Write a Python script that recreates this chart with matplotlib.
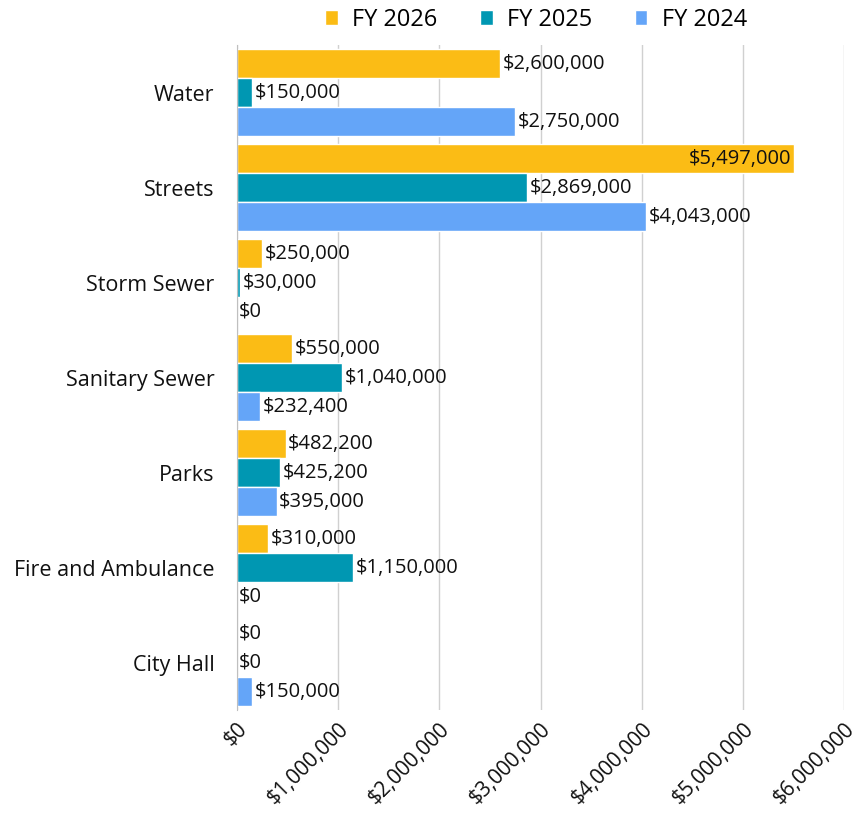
import matplotlib
matplotlib.use("Agg")
import matplotlib.pyplot as plt
import numpy as np
from matplotlib.ticker import FuncFormatter

plt.rcParams['font.family'] = ['Open Sans', 'DejaVu Sans']

categories = ["Water", "Streets", "Storm Sewer", "Sanitary Sewer", "Parks",
              "Fire and Ambulance", "City Hall"]
series_names = ["FY 2026", "FY 2025", "FY 2024"]
fy2026 = [2600000, 5497000, 250000, 550000, 482200, 310000, 0]
fy2025 = [150000, 2869000, 30000, 1040000, 425200, 1150000, 0]
fy2024 = [2750000, 4043000, 0, 232400, 395000, 0, 150000]
colors = ["#FBBC15", "#0097B2", "#64A5F8"]
x_ticks = [0, 1000000, 2000000, 3000000, 4000000, 5000000, 6000000]

fig = plt.figure(figsize=(8.67, 8.24), dpi=100)
ax = fig.add_axes([0.273, 0.138, 0.701, 0.807])

y = np.arange(len(categories))
h = 0.305
offsets = [-h, 0, h]
fs_val = 14.5
fs_cat = 15.5
fs_tick = 15
for vals, off, col, name in zip([fy2026, fy2025, fy2024], offsets, colors, series_names):
    ax.barh(y + off, vals, height=h, color=col, edgecolor='white',
            linewidth=1.0, label=name, zorder=3)
    for yy, v in zip(y + off, vals):
        lab = "${:,.0f}".format(v)
        if v > 5000000:
            ax.text(v - 20000, yy, lab, ha='right', va='center', fontsize=fs_val,
                    color='#111111', zorder=4)
        else:
            ax.text(v + 25000, yy, lab, ha='left', va='center', fontsize=fs_val,
                    color='#111111', zorder=4)

ax.set_xlim(0, 6000000)
ax.set_ylim(len(categories) - 0.5, -0.5)
ax.set_yticks(y)
ax.set_yticklabels(categories, fontsize=fs_cat)
ax.set_xticks(x_ticks)
ax.xaxis.set_major_formatter(FuncFormatter(lambda v, p: "${:,.0f}".format(v)))
ax.tick_params(axis='both', length=0, colors='#111111')
ax.tick_params(axis='y', pad=16)
ax.tick_params(axis='x', pad=6)
for lbl in ax.get_xticklabels():
    lbl.set_rotation(45)
    lbl.set_ha('right')
    lbl.set_rotation_mode('anchor')
    lbl.set_fontsize(fs_tick)
ax.grid(axis='x', color='#D0D0D0', linewidth=1.0, zorder=0)
for s in ['top', 'right', 'bottom']:
    ax.spines[s].set_visible(False)
ax.spines['left'].set_color('#BFBFBF')
ax.spines['left'].set_zorder(5)

handles, labels = ax.get_legend_handles_labels()
fig.legend(handles, labels, loc='center', bbox_to_anchor=(0.618, 0.976), ncol=3,
           frameon=False, fontsize=17, handlelength=0.55, handleheight=0.55,
           handletextpad=0.6, columnspacing=1.8)

fig.savefig("out.png", dpi=100)
